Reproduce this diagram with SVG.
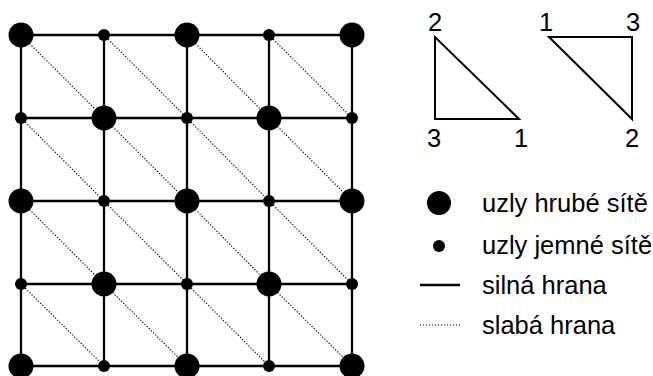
<svg xmlns="http://www.w3.org/2000/svg" width="653" height="376" viewBox="0 0 653 376">
<style>
.e{stroke:#000;stroke-width:2.3;fill:none}
.w{stroke:#000;stroke-width:1.2;stroke-dasharray:1.2 1.8;fill:none}
.t{font-family:"Liberation Sans",Arial,sans-serif;font-size:25.5px;fill:#000}
.tri{stroke:#000;stroke-width:2;fill:none;stroke-linejoin:miter}
</style>
<rect width="653" height="376" fill="#fff"/>
<g id="weak-edges">
<line class="w" x1="21" y1="35" x2="104" y2="118"/><line class="w" x1="104" y1="35" x2="187" y2="118"/><line class="w" x1="187" y1="35" x2="269" y2="118"/><line class="w" x1="269" y1="35" x2="352" y2="118"/>
<line class="w" x1="21" y1="118" x2="104" y2="201"/><line class="w" x1="104" y1="118" x2="187" y2="201"/><line class="w" x1="187" y1="118" x2="269" y2="201"/><line class="w" x1="269" y1="118" x2="352" y2="201"/>
<line class="w" x1="21" y1="201" x2="104" y2="284"/><line class="w" x1="104" y1="201" x2="187" y2="284"/><line class="w" x1="187" y1="201" x2="269" y2="284"/><line class="w" x1="269" y1="201" x2="352" y2="284"/>
<line class="w" x1="21" y1="284" x2="104" y2="366"/><line class="w" x1="104" y1="284" x2="187" y2="366"/><line class="w" x1="187" y1="284" x2="269" y2="366"/><line class="w" x1="269" y1="284" x2="352" y2="366"/>
</g>
<g id="strong-edges">
<line class="e" x1="21" y1="35" x2="352" y2="35"/><line class="e" x1="21" y1="118" x2="352" y2="118"/><line class="e" x1="21" y1="201" x2="352" y2="201"/><line class="e" x1="21" y1="284" x2="352" y2="284"/><line class="e" x1="21" y1="366" x2="352" y2="366"/>
<line class="e" x1="21" y1="35" x2="21" y2="366"/><line class="e" x1="104" y1="35" x2="104" y2="366"/><line class="e" x1="187" y1="35" x2="187" y2="366"/><line class="e" x1="269" y1="35" x2="269" y2="366"/><line class="e" x1="352" y1="35" x2="352" y2="366"/>
</g>
<g id="nodes" fill="#000">
<circle id="n00" cx="21" cy="35" r="12.5"/><circle id="n01" cx="104" cy="35" r="6"/><circle id="n02" cx="187" cy="35" r="12.5"/><circle id="n03" cx="269" cy="35" r="6"/><circle id="n04" cx="352" cy="35" r="12.5"/>
<circle id="n10" cx="21" cy="118" r="6"/><circle id="n11" cx="104" cy="118" r="12.5"/><circle id="n12" cx="187" cy="118" r="6"/><circle id="n13" cx="269" cy="118" r="12.5"/><circle id="n14" cx="352" cy="118" r="6"/>
<circle id="n20" cx="21" cy="201" r="12.5"/><circle id="n21" cx="104" cy="201" r="6"/><circle id="n22" cx="187" cy="201" r="12.5"/><circle id="n23" cx="269" cy="201" r="6"/><circle id="n24" cx="352" cy="201" r="12.5"/>
<circle id="n30" cx="21" cy="284" r="6"/><circle id="n31" cx="104" cy="284" r="12.5"/><circle id="n32" cx="187" cy="284" r="6"/><circle id="n33" cx="269" cy="284" r="12.5"/><circle id="n34" cx="352" cy="284" r="6"/>
<circle id="n40" cx="21" cy="366" r="12.5"/><circle id="n41" cx="104" cy="366" r="6"/><circle id="n42" cx="187" cy="366" r="12.5"/><circle id="n43" cx="269" cy="366" r="6"/><circle id="n44" cx="352" cy="366" r="12.5"/>
</g>
<g id="triangle-left">
<polygon class="tri" points="435,37 435,119 519,119"/>
<text class="t" x="435" y="31" text-anchor="middle">2</text>
<text class="t" x="434" y="147" text-anchor="middle">3</text>
<text class="t" x="521" y="147" text-anchor="middle">1</text>
</g>
<g id="triangle-right">
<polygon class="tri" points="549,37 632,37 632,119"/>
<text class="t" x="546" y="31" text-anchor="middle">1</text>
<text class="t" x="633" y="31" text-anchor="middle">3</text>
<text class="t" x="632" y="147" text-anchor="middle">2</text>
</g>
<g id="legend">
<circle cx="439" cy="203" r="12"/>
<text class="t" x="482" y="212">uzly hrubé sítě</text>
<circle cx="439" cy="246" r="6"/>
<text class="t" x="482" y="254">uzly jemné sítě</text>
<line class="e" x1="420" y1="285" x2="460" y2="285"/>
<text class="t" x="482" y="294">silná hrana</text>
<line class="w" x1="420" y1="325" x2="460" y2="325"/>
<text class="t" x="482" y="334">slabá hrana</text>
</g>
</svg>
